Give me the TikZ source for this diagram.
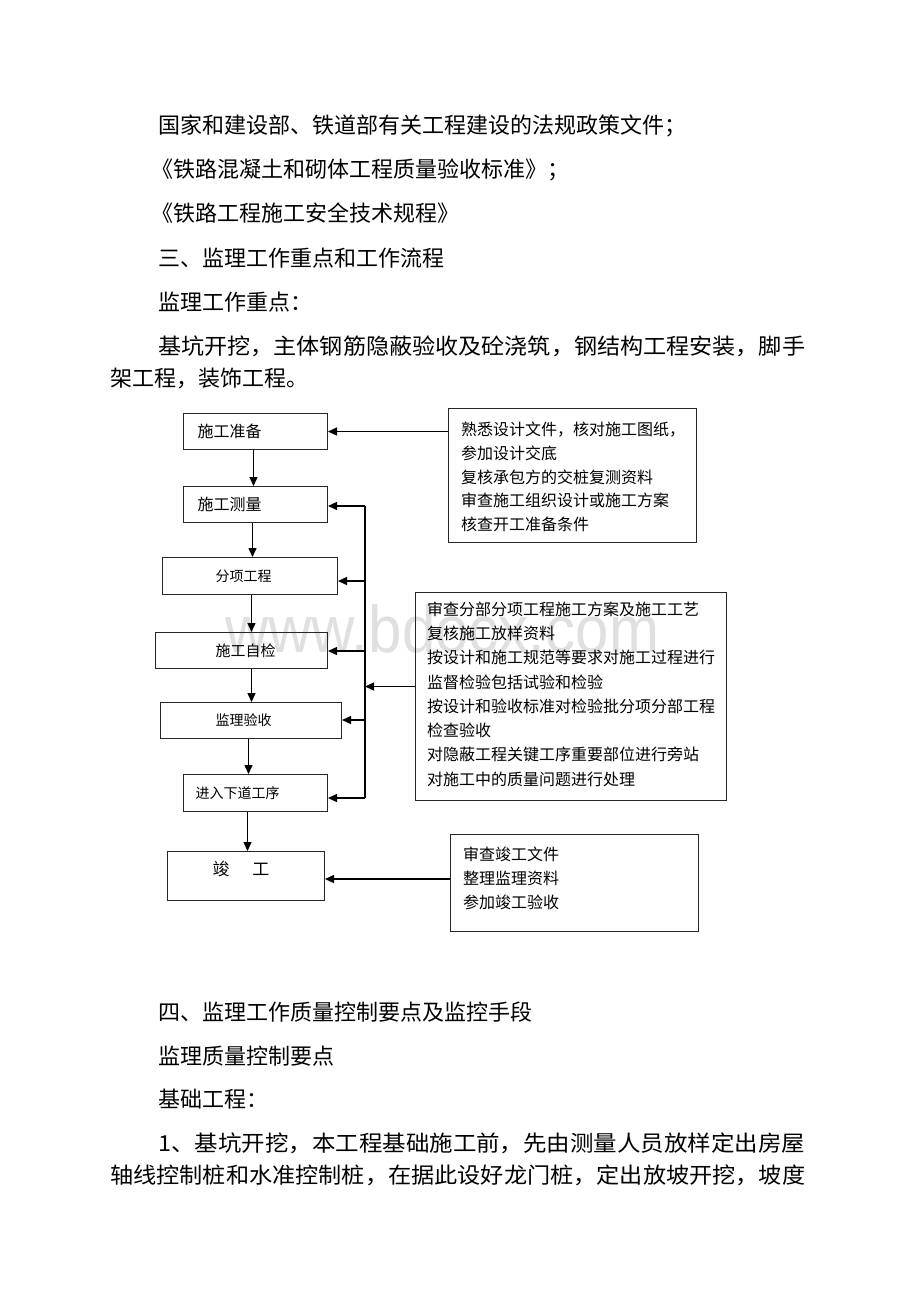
\documentclass[tikz,border=0pt]{standalone}
\usepackage{fontspec}
\usepackage{graphicx}
\setmainfont{Noto Sans CJK SC}
\newfontfamily\wmfont{Liberation Sans}
\usetikzlibrary{arrows.meta,calc}
\newcommand\fsz[1]{\fontsize{#1pt}{#1pt}\selectfont}
\begin{document}
\begin{tikzpicture}[x=1pt,y=-1pt,
  body/.style={anchor=west, inner sep=0pt, font=\fsz{22}},
  box/.style={draw=black!85, line width=1pt, inner ysep=0pt, anchor=north west},
  rbox/.style={draw=black!85, line width=1pt, inner sep=0pt, anchor=north west},
  rtext/.style={anchor=west, inner sep=0pt, font=\fsz{16}},
  arr/.style={line width=1.4pt, -{Triangle[length=9pt,width=8pt]}},
  bus/.style={line width=1.4pt}]
\useasboundingbox (0,0) rectangle (920,1302);
\fill[white] (0,0) rectangle (920,1302);

% watermark
\node[anchor=base west, inner sep=0pt, text=black!12, font=\wmfont\fsz{66}] (wm) at (225,652) {\scalebox{0.91}[1]{www.bdocx.com}};

% body text (top)
\node[body] (t1) at (158,126) {国家和建设部、铁道部有关工程建设的法规政策文件；};
\node[body] (t2) at (151,170) {《铁路混凝土和砌体工程质量验收标准》；};
\node[body] (t3) at (151,213) {《铁路工程施工安全技术规程》};
\node[body] (t4) at (158,258) {三、监理工作重点和工作流程};
\node[body] (t5) at (158,302) {监理工作重点：};
\node[body] (t6) at (158,346) {\resizebox{647pt}{\height}{基坑开挖，主体钢筋隐蔽验收及砼浇筑，钢结构工程安装，脚手}};
\node[body] (t7) at (110,378) {架工程，装饰工程。};

% body text (bottom)
\node[body] (b1) at (158,1012) {四、监理工作质量控制要点及监控手段};
\node[body] (b2) at (158,1056) {监理质量控制要点};
\node[body] (b3) at (158,1099) {基础工程：};
\node[body] (b4) at (158,1143) {\resizebox{647pt}{\height}{1、基坑开挖，本工程基础施工前，先由测量人员放样定出房屋}};
\node[body] (b5) at (110,1175) {\resizebox{695pt}{\height}{轴线控制桩和水准控制桩，在据此设好龙门桩，定出放坡开挖，坡度}};

% left flow boxes
\node[box, minimum width=144pt, minimum height=36pt, text width=116pt, inner xsep=14pt, align=left, font=\fsz{16}] (zb) at (183,413) {施工准备};
\node[box, minimum width=144pt, minimum height=36pt, text width=116pt, inner xsep=14pt, align=left, font=\fsz{16}] (cl) at (183,486) {施工测量};
\node[box, minimum width=175pt, minimum height=37pt, text width=69pt, inner xsep=53pt, align=left, font=\fsz{14}] (fx) at (162,557) {分项工程};
\node[box, minimum width=172pt, minimum height=36pt, text width=68pt, inner xsep=52pt, align=right, font=\fsz{15}] (zj) at (155,632) {施工自检};
\node[box, minimum width=181pt, minimum height=36pt, text width=71pt, inner xsep=55pt, align=left, font=\fsz{14}] (ys) at (160,702) {监理验收};
\node[box, minimum width=144pt, minimum height=37pt, text width=120pt, inner xsep=12pt, align=left, font=\fsz{14}] (jr) at (183,774) {进入下道工序};
\node[box, minimum width=157pt, text width=67pt, inner xsep=45pt, text height=23.5pt, text depth=25.5pt, align=left, font=\fsz{17}] (jg) at (167,851) {竣\hspace{23pt}工};

% right boxes
\node[rbox, minimum width=248pt, minimum height=134pt] (r1) at (448,408) {};
\node[rbox, minimum width=311pt, minimum height=208pt] (r2) at (415,592) {};
\node[rbox, minimum width=248pt, minimum height=97pt] (r3) at (450,834) {};

\foreach \t [count=\i] in {熟悉设计文件，核对施工图纸，, 参加设计交底, 复核承包方的交桩复测资料, 审查施工组织设计或施工方案, 核查开工准备条件}
  \node[rtext] (r1t\i) at (461,{430+23.5*(\i-1)}) {\t};
\foreach \t [count=\i] in {审查分部分项工程施工方案及施工工艺, 复核施工放样资料, 按设计和施工规范等要求对施工过程进行, 监督检验包括试验和检验, 按设计和验收标准对检验批分项分部工程, 检查验收, 对隐蔽工程关键工序重要部位进行旁站, 对施工中的质量问题进行处理}
  \node[rtext] (r2t\i) at (427,{609+24.3*(\i-1)}) {\t};
\foreach \t [count=\i] in {审查竣工文件, 整理监理资料, 参加竣工验收}
  \node[rtext] (r3t\i) at (463,{854+24*(\i-1)}) {\t};

% main flow arrows
\draw[arr] ([xshift=-2pt]zb.south) -- ([xshift=-2pt]zb.south |- cl.north);
\draw[arr] ([xshift=-3pt]cl.south) -- ([xshift=-3pt]cl.south |- fx.north);
\draw[arr] ([xshift=1.5pt]fx.south) -- ([xshift=1.5pt]fx.south |- zj.north);
\draw[arr] ([xshift=10pt]zj.south) -- ([xshift=10pt]zj.south |- ys.north);
\draw[arr] ([xshift=-2.5pt]ys.south) -- ([xshift=-2.5pt]ys.south |- jr.north);
\draw[arr] ([xshift=-8pt]jr.south) -- ([xshift=-8pt]jr.south |- jg.north);

% feedback bus
\coordinate (bt) at (365,506);
\coordinate (b2) at (365,581);
\coordinate (b3) at (365,651);
\coordinate (b4) at (365,720);
\coordinate (bb) at (365,798);
\draw[bus] (bt) -- (bb);
\draw[arr] (bt) -- (bt -| cl.east);
\draw[arr] (b2) -- (b2 -| fx.east);
\draw[arr] (b3) -- (b3 -| zj.east);
\draw[arr] (b4) -- (b4 -| ys.east);
\draw[arr] (bb) -- (bb -| jr.east);

% right boxes to flow
\draw[arr] (r1.west |- zb.east) -- (zb.east);
\draw[arr] ([yshift=10pt]r2.west) -- ([yshift=10pt]r2.west -| bt);
\draw[arr] ([yshift=4pt]r3.west) -- ([yshift=4pt]r3.west -| jg.east);
\end{tikzpicture}
\end{document}
